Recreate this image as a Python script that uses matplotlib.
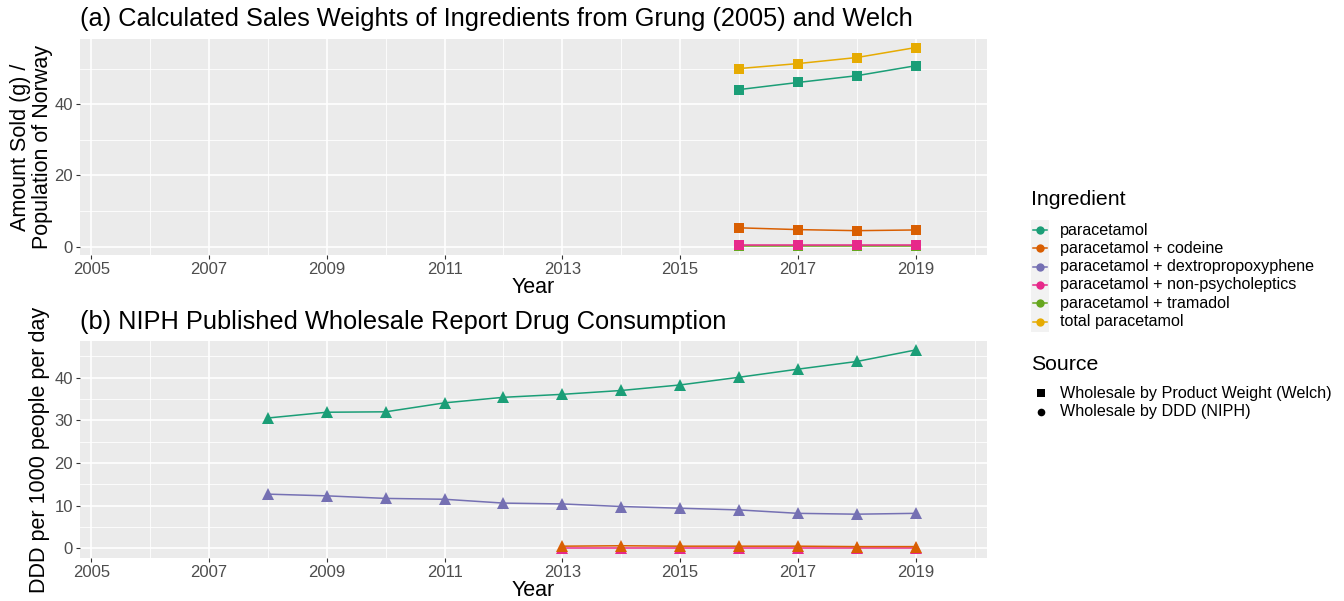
import matplotlib
matplotlib.use("Agg")
import matplotlib.pyplot as plt
from matplotlib.lines import Line2D
from matplotlib.patches import Rectangle
import numpy as np

plt.rcParams['font.family'] = ['Liberation Sans', 'DejaVu Sans']

# ---------------- data ----------------
ingredients = ["paracetamol", "paracetamol + codeine", "paracetamol + dextropropoxyphene",
               "paracetamol + non-psycholeptics", "paracetamol + tramadol", "total paracetamol"]
colors = ["#1B9E77", "#D95F02", "#7570B3", "#E7298A", "#66A61E", "#E6AB02"]

# Panel (a): Welch wholesale by product weight
years_a = [2016, 2017, 2018, 2019]
a_paracetamol = [44.1, 46.1, 48.0, 50.8]
a_codeine = [5.3, 4.8, 4.5, 4.7]
a_nonpsy = [0.5, 0.5, 0.5, 0.5]
a_tramadol = [0.2, 0.2, 0.2, 0.2]
a_total = [50.0, 51.4, 53.1, 55.9]

# Panel (b): NIPH wholesale DDD
years_b = [2008, 2009, 2010, 2011, 2012, 2013, 2014, 2015, 2016, 2017, 2018, 2019]
b_paracetamol = [30.55, 31.9, 32.0, 34.1, 35.4, 36.1, 37.0, 38.3, 40.1, 42.0, 43.8, 46.5]
b_dextro = [12.7, 12.3, 11.7, 11.5, 10.6, 10.4, 9.8, 9.4, 9.0, 8.2, 8.0, 8.2]
years_b2 = [2013, 2014, 2015, 2016, 2017, 2018, 2019]
b_codeine = [0.5, 0.6, 0.5, 0.5, 0.5, 0.4, 0.4]
b_nonpsy = [0.1, 0.1, 0.1, 0.1, 0.1, 0.1, 0.1]

xticks = [2005, 2007, 2009, 2011, 2013, 2015, 2017, 2019]
xminor = [2006, 2008, 2010, 2012, 2014, 2016, 2018, 2020]

W, H = 1344, 601
fig = plt.figure(figsize=(W / 100, H / 100), dpi=100)

def fx(px):
    return px / W

def fy(py):
    return 1 - py / H

panel_bg = "#EBEBEB"

def style_axes(ax, yticks, yminor, ylim):
    ax.set_facecolor(panel_bg)
    for s in ax.spines.values():
        s.set_visible(False)
    ax.set_xlim(2004.81, 2020.21)
    ax.set_ylim(*ylim)
    for v in xminor:
        ax.axvline(v, color="white", lw=0.6, zorder=0)
    for v in xticks:
        ax.axvline(v, color="white", lw=1.2, zorder=0)
    for v in yminor:
        ax.axhline(v, color="white", lw=0.6, zorder=0)
    for v in yticks:
        ax.axhline(v, color="white", lw=1.2, zorder=0)
    ax.set_xticks(xticks)
    ax.set_xticklabels([str(x) for x in xticks])
    ax.set_yticks(yticks)
    ax.set_yticklabels([str(y) for y in yticks])
    ax.tick_params(axis="both", colors="#333333", length=3, width=0.8,
                   labelcolor="#4D4D4D", labelsize=12, pad=2)
    ax.set_axisbelow(True)

# Panel a
ax1 = fig.add_axes([fx(80), fy(255), fx(987) - fx(80), fy(39) - fy(255)])
style_axes(ax1, [0, 20, 40], [10, 30, 50], (-2.33, 58.3))
series_a = [(a_paracetamol, 0), (a_codeine, 1), (a_tramadol, 4), (a_nonpsy, 3), (a_total, 5)]
for vals, ci in series_a:
    ax1.plot(years_a, vals, color=colors[ci], lw=1.1, marker="s", ms=7.5,
             markeredgewidth=0, zorder=3)
ax1.set_xlabel("Year", fontsize=15.5, labelpad=0)
ax1.set_ylabel("Amount Sold (g) /\nPopulation of Norway", fontsize=15.5, labelpad=1,
               linespacing=1.05)
fig.text(fx(80), fy(19), "(a) Calculated Sales Weights of Ingredients from Grung (2005) and Welch",
         fontsize=18.3, va="center", ha="left")

# Panel b
ax2 = fig.add_axes([fx(80), fy(558), fx(987) - fx(80), fy(341) - fy(558)])
style_axes(ax2, [0, 10, 20, 30, 40], [5, 15, 25, 35, 45], (-2.27, 48.6))
series_b = [(years_b, b_paracetamol, 0), (years_b, b_dextro, 2),
            (years_b2, b_nonpsy, 3), (years_b2, b_codeine, 1)]
for yrs, vals, ci in series_b:
    ax2.plot(yrs, vals, color=colors[ci], lw=1.1, marker="^", ms=8.5,
             markeredgewidth=0, zorder=3)
ax2.set_xlabel("Year", fontsize=15.5, labelpad=0)
ax2.set_ylabel("DDD per 1000 people per day", fontsize=15.5, labelpad=3)
fig.text(fx(80), fy(322), "(b) NIPH Published Wholesale Report Drug Consumption",
         fontsize=18.3, va="center", ha="left")

# Legend: Ingredient
fig.text(fx(1031), fy(200), "Ingredient", fontsize=15.3, va="center", ha="left")
entry_y = [230, 248.3, 266.7, 285, 303.3, 321.7]
fig.patches.append(Rectangle((fx(1031), fy(331.7)), fx(1049) - fx(1031), fy(220) - fy(331.7),
                             transform=fig.transFigure, facecolor="#F2F2F2", edgecolor="none"))
for name, col, yy in zip(ingredients, colors, entry_y):
    fig.lines.append(Line2D([fx(1033), fx(1047)], [fy(yy), fy(yy)], transform=fig.transFigure,
                            color=col, lw=1.1))
    fig.lines.append(Line2D([fx(1040)], [fy(yy)], transform=fig.transFigure, color=col,
                            marker="o", ms=6, markeredgewidth=0))
    fig.text(fx(1060), fy(yy), name, fontsize=11.6, va="center", ha="left")

# Legend: Source
fig.text(fx(1031), fy(365), "Source", fontsize=15.3, va="center", ha="left")
src = [("Wholesale by Product Weight (Welch)", "s", 393.3), ("Wholesale by DDD (NIPH)", "o", 411.7)]
for name, mk, yy in src:
    fig.lines.append(Line2D([fx(1040.5)], [fy(yy)], transform=fig.transFigure, color="black",
                            marker=mk, ms=5.5, markeredgewidth=0))
    fig.text(fx(1060), fy(yy), name, fontsize=11.6, va="center", ha="left")

fig.savefig("out.png", dpi=100)
